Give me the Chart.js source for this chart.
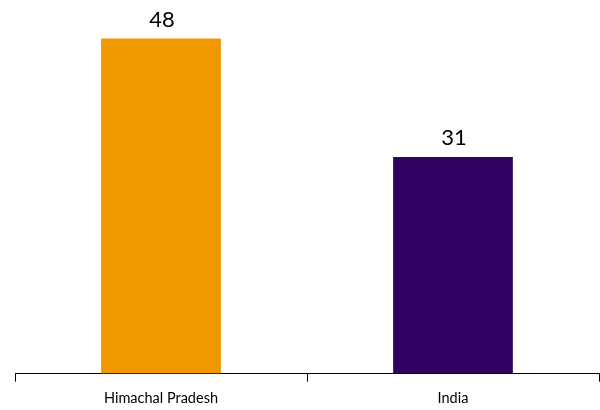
<!DOCTYPE html>
<html>
<head>
<meta charset="utf-8">
<script src="https://cdn.jsdelivr.net/npm/chart.js@4"></script>
<style>
  html, body { margin: 0; padding: 0; background: #ffffff; }
  #wrap { width: 600px; height: 410px; }
</style>
</head>
<body>
<div id="wrap"><canvas id="chart" width="600" height="410"></canvas></div>
<script>
const categories = ['Himachal Pradesh', 'India'];
const values = [48, 31];
const barColors = ['#EF9800', '#320260'];

// Writes each bar's value just above it
const valueLabels = {
  id: 'valueLabels',
  afterDatasetsDraw(chart) {
    const ctx = chart.ctx;
    const meta = chart.getDatasetMeta(0);
    ctx.save();
    ctx.fillStyle = '#000000';
    ctx.font = '22px Lato, "Open Sans", sans-serif';
    ctx.textAlign = 'center';
    ctx.textBaseline = 'bottom';
    meta.data.forEach((bar, i) => {
      ctx.fillText(String(values[i]), bar.x + 1, bar.y - 8);
    });
    ctx.restore();
  }
};

new Chart(document.getElementById('chart'), {
  type: 'bar',
  data: {
    labels: categories,
    datasets: [{
      data: values,
      backgroundColor: barColors,
      borderWidth: 0,
      categoryPercentage: 1,
      barPercentage: 0.41
    }]
  },
  options: {
    responsive: false,
    animation: false,
    layout: { padding: { left: 15, right: 1, top: 0, bottom: -5 } },
    plugins: { legend: { display: false }, tooltip: { enabled: false } },
    scales: {
      x: {
        border: { display: true, color: '#000000', width: 1 },
        grid: { display: true, drawOnChartArea: false, drawTicks: true, tickLength: 8, color: '#000000', offset: true },
        ticks: { color: '#000000', font: { size: 14.5, family: 'Lato, "Open Sans", sans-serif' }, padding: 8 }
      },
      y: {
        display: false,
        min: 0,
        max: 53.5
      }
    }
  },
  plugins: [valueLabels]
});
</script>
</body>
</html>
